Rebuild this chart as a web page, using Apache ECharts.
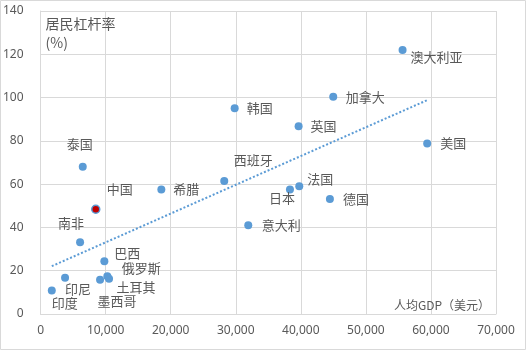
<!DOCTYPE html>
<html>
<head>
<meta charset="utf-8">
<script src="https://cdn.jsdelivr.net/npm/echarts@6/dist/echarts.min.js"></script>
<style>
  html, body { margin: 0; padding: 0; background: #fff; }
  #chart { width: 527px; height: 351px; }
</style>
</head>
<body>
<div id="chart"></div>
<script>
  // 国家 / 人均GDP(美元) / 居民杠杆率(%)
  var countries = ['印度', '印尼', '南非', '泰国', '中国', '巴西', '墨西哥', '俄罗斯', '土耳其', '希腊',
    '西班牙', '韩国', '意大利', '日本', '英国', '法国', '德国', '加拿大', '澳大利亚', '美国'];
  var gdpPerCapita = [1720, 3760, 6070, 6480, 8480, 9800, 9140, 10260, 10520, 18560,
    28230, 29830, 31920, 38330, 39660, 39760, 44470, 44980, 55640, 59420];
  var leverage = [10.9, 16.8, 33.1, 68.0, 48.4, 24.4, 15.8, 17.4, 16.3, 57.5,
    61.5, 95.1, 41.0, 57.5, 86.8, 59.0, 53.1, 100.4, 122.0, 78.8];

  // 趋势线两端
  var trendX = [1720, 59420];
  var trendY = [22.1, 98.8];

  var xTicks = [0, 70000, 10000];
  var yTicks = [0, 140, 20];

  // 标签相对数据点的偏移
  var labelOffset = {
    '印度': [13, 13], '印尼': [13, 11], '南非': [-9, -19], '泰国': [-3, -23],
    '中国': [24, -20], '巴西': [23, -8], '墨西哥': [17, 21], '俄罗斯': [34, -8],
    '土耳其': [27, 8], '希腊': [25, 0], '西班牙': [29, -21], '韩国': [25, 0],
    '意大利': [33, 0], '日本': [-8, 9], '英国': [25, 0], '法国': [21, -7],
    '德国': [26, 0], '加拿大': [32, 0], '澳大利亚': [34, 7], '美国': [26, 0]
  };

  var blue = '#5B9BD5';
  var grey = '#595959';
  var cjk = '"Noto Sans CJK SC", "Noto Sans", sans-serif';

  var points = [];
  for (var i = 0; i < countries.length; i++) {
    var item = {
      name: countries[i],
      value: [gdpPerCapita[i], leverage[i]],
      label: { offset: labelOffset[countries[i]] }
    };
    if (countries[i] === '中国') {
      item.itemStyle = { color: '#C00000', borderColor: blue, borderWidth: 1.5 };
    }
    points.push(item);
  }

  var trend = [];
  for (var j = 0; j < trendX.length; j++) {
    trend.push([trendX[j], trendY[j]]);
  }

  var chart = echarts.init(document.getElementById('chart'));
  chart.setOption({
    animation: false,
    textStyle: { fontFamily: cjk },
    grid: { left: 40, right: 31, top: 11, bottom: 37 },
    graphic: [{
      type: 'rect',
      shape: { x: 0.5, y: 0.5, width: 525, height: 349 },
      style: { fill: 'none', stroke: '#D9D9D9', lineWidth: 1 },
      silent: true
    }],
    xAxis: {
      type: 'value',
      min: xTicks[0],
      max: xTicks[1],
      interval: xTicks[2],
      name: '人均GDP（美元）',
      nameLocation: 'end',
      nameGap: -6,
      nameTextStyle: { color: grey, fontSize: 12, align: 'right', verticalAlign: 'bottom', padding: [0, 0, 3, 0] },
      axisLine: { lineStyle: { color: '#D9D9D9' } },
      axisTick: { show: false },
      axisLabel: {
        color: grey, fontSize: 12, margin: 11, fontFamily: '"Noto Sans", sans-serif',
        formatter: function (v) { return v.toLocaleString('en-US'); }
      },
      splitLine: { show: true, lineStyle: { color: '#D9D9D9' } }
    },
    yAxis: {
      type: 'value',
      min: yTicks[0],
      max: yTicks[1],
      interval: yTicks[2],
      name: '居民杠杆率\n(%)',
      nameLocation: 'end',
      nameGap: -3,
      nameTextStyle: { color: grey, fontSize: 14, align: 'left', verticalAlign: 'top', lineHeight: 19, padding: [0, 0, 0, 5] },
      axisLine: { show: true, lineStyle: { color: '#D9D9D9' } },
      axisTick: { show: false },
      axisLabel: { color: grey, fontSize: 12, margin: 17, fontFamily: '"Noto Sans", sans-serif' },
      splitLine: { show: true, lineStyle: { color: '#D9D9D9' } }
    },
    series: [
      {
        type: 'line',
        data: trend,
        symbol: 'none',
        silent: true,
        lineStyle: { color: blue, width: 2, type: [2, 2] },
        z: 1
      },
      {
        type: 'scatter',
        data: points,
        symbolSize: 8,
        itemStyle: { color: blue, opacity: 1 },
        label: {
          show: true,
          position: 'inside',
          formatter: '{b}',
          color: grey,
          fontSize: 13,
          fontFamily: cjk
        },
        z: 2
      }
    ]
  });
</script>
</body>
</html>
